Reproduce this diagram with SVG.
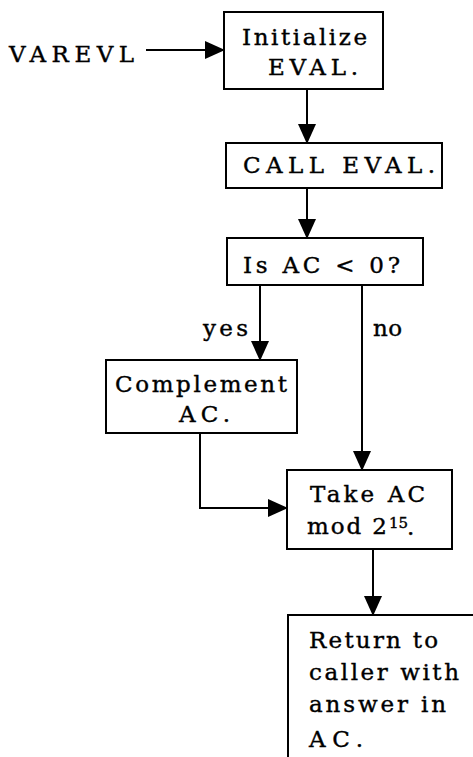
<svg xmlns="http://www.w3.org/2000/svg" width="473" height="757" viewBox="0 0 473 757">
<style>
.box{fill:#fff;stroke:#000;stroke-width:2}
.ln{fill:none;stroke:#000;stroke-width:2}
text{font-family:"DejaVu Serif","Liberation Serif",serif;font-size:23px;fill:#000;stroke:#000;stroke-width:0.4}
.sup{font-size:15px}
</style>
<defs>
<marker id="ah" markerUnits="userSpaceOnUse" markerWidth="20" markerHeight="20" viewBox="0 0 20 20" refX="20" refY="10" orient="auto">
<path d="M0,1 L20,10 L0,19 Z" fill="#000"/>
</marker>
</defs>
<rect width="473" height="757" fill="#fff"/>
<g id="connectors">
<line class="ln" x1="146" y1="50" x2="225" y2="50" marker-end="url(#ah)"/>
<line class="ln" x1="307" y1="89" x2="307" y2="144" marker-end="url(#ah)"/>
<line class="ln" x1="307" y1="188" x2="307" y2="239" marker-end="url(#ah)"/>
<line class="ln" x1="260" y1="285" x2="260" y2="361" marker-end="url(#ah)"/>
<line class="ln" x1="362" y1="285" x2="362" y2="471" marker-end="url(#ah)"/>
<polyline class="ln" points="200,433 200,508 288,508" marker-end="url(#ah)"/>
<line class="ln" x1="373" y1="549" x2="373" y2="616" marker-end="url(#ah)"/>
<text x="203" y="336" textLength="45" lengthAdjust="spacing">yes</text>
<text x="373" y="336" textLength="29" lengthAdjust="spacing">no</text>
</g>
<g id="start">
<text x="9" y="62" textLength="125" lengthAdjust="spacing">VAREVL</text>
</g>
<g id="init">
<rect class="box" x="224" y="12" width="159" height="77"/>
<text x="242" y="45" textLength="125" lengthAdjust="spacing">Initialize</text>
<text x="268" y="75" textLength="90" lengthAdjust="spacing">EVAL.</text>
</g>
<g id="call">
<rect class="box" x="226" y="143" width="216" height="45"/>
<text x="243" y="173" textLength="192" lengthAdjust="spacing">CALL EVAL.</text>
</g>
<g id="test">
<rect class="box" x="227" y="238" width="196" height="47"/>
<text x="243" y="273" textLength="157" lengthAdjust="spacing">Is AC &lt; 0?</text>
</g>
<g id="complement">
<rect class="box" x="106" y="360" width="191" height="73"/>
<text x="115" y="392" textLength="172" lengthAdjust="spacing">Complement</text>
<text x="179" y="422" textLength="51" lengthAdjust="spacing">AC.</text>
</g>
<g id="mod">
<rect class="box" x="287" y="470" width="165" height="79"/>
<text x="310" y="502" textLength="115" lengthAdjust="spacing">Take AC</text>
<text x="307" y="534" textLength="80" lengthAdjust="spacing">mod 2</text>
<text class="sup" x="389" y="528" textLength="19" lengthAdjust="spacing">15</text>
<text x="407" y="535">.</text>
</g>
<g id="return">
<rect class="box" x="288" y="615" width="200" height="160"/>
<text x="309" y="648" textLength="129" lengthAdjust="spacing">Return to</text>
<text x="309" y="680" textLength="150" lengthAdjust="spacing">caller with</text>
<text x="309" y="712" textLength="137" lengthAdjust="spacing">answer in</text>
<text x="309" y="747" textLength="54" lengthAdjust="spacing">AC.</text>
</g>
</svg>
